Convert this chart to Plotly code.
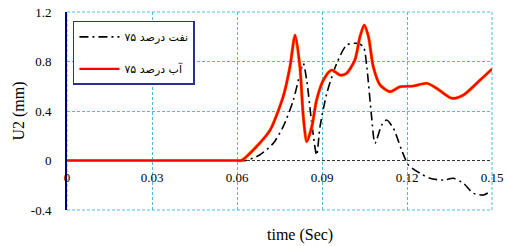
import plotly.graph_objects as go

# ---- data ----
t_oil = [0.0, 0.03, 0.06, 0.063, 0.068, 0.0728, 0.0763, 0.0799, 0.0822, 0.0834, 0.0846, 0.0864,
         0.0881, 0.0893, 0.0917, 0.0952, 0.0987, 0.1022, 0.1046, 0.1058, 0.1075, 0.1087, 0.1111,
         0.1128, 0.1152, 0.1181, 0.1205, 0.1246, 0.1281, 0.1328, 0.1364, 0.1399, 0.1434, 0.147, 0.1487]
u_oil = [0.0, 0.0, 0.0, 0.0, 0.044, 0.139, 0.273, 0.489, 0.70, 0.785, 0.65, 0.30,
         0.044, 0.273, 0.543, 0.785, 0.933, 0.947, 0.92, 0.758, 0.354, 0.139, 0.287,
         0.327, 0.26, 0.085, -0.036, -0.103, -0.144, -0.158, -0.144, -0.184, -0.265, -0.279, -0.26]

t_water = [0.0, 0.03, 0.06, 0.0615, 0.068, 0.0717, 0.0763, 0.0787, 0.0805, 0.0822, 0.0834, 0.0846,
           0.0864, 0.0881, 0.0905, 0.0934, 0.0964, 0.0987, 0.1016, 0.1034, 0.1049, 0.1064, 0.1081,
           0.1105, 0.114, 0.1175, 0.1223, 0.127, 0.1305, 0.1358, 0.1399, 0.1458, 0.15]
u_water = [0.0, 0.0, 0.0, 0.0, 0.14, 0.246, 0.516, 0.758, 1.014, 0.758, 0.354, 0.152,
           0.273, 0.489, 0.65, 0.731, 0.69, 0.705, 0.812, 1.0, 1.095, 1.0, 0.758,
           0.61, 0.556, 0.596, 0.602, 0.624, 0.583, 0.503, 0.529, 0.65, 0.739]

x_ticks = [0, 0.03, 0.06, 0.09, 0.12, 0.15]
x_tick_text = ["0", "0.03", "0.06", "0.09", "0.12", "0.15"]
y_ticks = [-0.4, 0, 0.4, 0.8, 1.2]
y_tick_text = ["-0.4", "0", "0.4", "0.8", "1.2"]

name_oil = "نفت درصد ۷۵"
name_water = "آب درصد ۷۵"

GRID = "#4DBCE3"
SERIF = "Liberation Serif"

fig = go.Figure()
fig.add_trace(go.Scatter(x=t_oil, y=u_oil, mode="lines", name=name_oil, legendgroup="a",
                         line=dict(color="black", width=1.6, dash="9px,4px,2px,4px",
                                   shape="spline", smoothing=0.7)))
fig.add_trace(go.Scatter(x=t_water, y=u_water, mode="lines", showlegend=False, legendgroup="b",
                         hoverinfo="skip",
                         line=dict(color="#FF8800", width=3.2, shape="spline", smoothing=0.7)))
fig.add_trace(go.Scatter(x=t_water, y=u_water, mode="lines", name=name_water, legendgroup="b",
                         line=dict(color="#FF0000", width=2.2, shape="spline", smoothing=0.7)))

fig.update_layout(
    width=509, height=246,
    margin=dict(l=67, r=17, t=12, b=36),
    paper_bgcolor="white", plot_bgcolor="white",
    font=dict(family=SERIF, size=13, color="black"),
    xaxis=dict(range=[0, 0.15], tickvals=x_ticks, ticktext=x_tick_text,
               showgrid=True, gridcolor=GRID, griddash="3px,2px", gridwidth=1,
               zeroline=False, showline=False, ticks="", automargin=False,
               anchor="free", position=0.25, ticklabelstandoff=7, ticklabeloverflow="allow",
               tickfont=dict(family=SERIF, size=13)),
    yaxis=dict(range=[-0.4, 1.2], tickvals=y_ticks, ticktext=y_tick_text,
               showgrid=False, zeroline=False, showline=True, linecolor="#00007A", linewidth=2,
               ticks="", ticklabelstandoff=11, automargin=False, ticklabeloverflow="allow",
               title=dict(text="U2 (mm)", font=dict(family=SERIF, size=16), standoff=2),
               tickfont=dict(family=SERIF, size=13)),
    yaxis2=dict(range=[-0.4, 1.2], overlaying="y", tickvals=[-0.4, 0.4, 0.8, 1.2],
                showticklabels=False, showgrid=True, gridcolor=GRID, griddash="3px,2px",
                zeroline=False, showline=False, ticks="", automargin=False),
    yaxis3=dict(range=[-0.4, 1.2], overlaying="y", tickvals=[0],
                showticklabels=False, showgrid=True, gridcolor="#333333", griddash="3px,2px",
                zeroline=False, showline=False, ticks="", automargin=False),
    legend=dict(x=0.014, y=0.955, xanchor="left", yanchor="top",
                bgcolor="white", bordercolor="#2B2F8F", borderwidth=1.5,
                font=dict(family="DejaVu Sans", size=11, color="black"),
                tracegroupgap=13, itemwidth=40),
    showlegend=True,
    # dashed frame around the plot area (top / right / bottom edges)
    shapes=[dict(type="rect", xref="paper", yref="paper", x0=0, x1=1, y0=0, y1=1,
                 line=dict(color=GRID, width=1, dash="3px,2px"), layer="below")],
    annotations=[dict(text="time (Sec)", xref="paper", yref="paper", x=0.548, y=-0.182,
                      xanchor="center", yanchor="bottom", showarrow=False,
                      font=dict(family=SERIF, size=16))],
)

# invisible helper traces that activate the overlay grid axes
fig.add_trace(go.Scatter(x=[0], y=[0], yaxis="y2", mode="lines", showlegend=False,
                         hoverinfo="skip", line=dict(color="rgba(0,0,0,0)")))
fig.add_trace(go.Scatter(x=[0], y=[0], yaxis="y3", mode="lines", showlegend=False,
                         hoverinfo="skip", line=dict(color="rgba(0,0,0,0)")))

# remove the default 8px page margin so the 509x246 figure fills the window exactly
fig.write_html("out.html", config={"displayModeBar": False},
               post_script="document.body.style.margin='0';document.body.style.overflow='hidden';")
